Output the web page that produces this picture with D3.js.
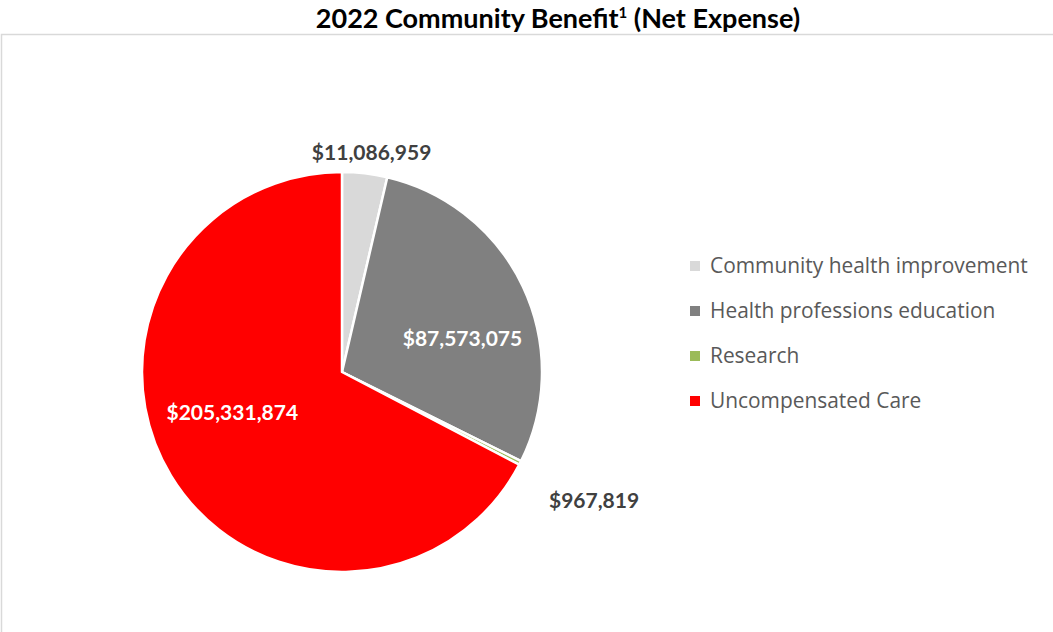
<!DOCTYPE html>
<html><head><meta charset="utf-8">
<script src="https://cdn.jsdelivr.net/npm/d3@7"></script>
<style>
body{margin:0;background:#fff;}
svg{display:block;font-family:Lato,"Open Sans",sans-serif;}
</style></head>
<body>
<svg id="c" width="1053" height="632"></svg>
<script>
const categories = ["Community health improvement","Health professions education","Research","Uncompensated Care"];
const values = [11086959, 87573075, 967819, 205331874];
const labels = ["$11,086,959","$87,573,075","$967,819","$205,331,874"];
const colors = ["#d9d9d9","#808080","#9bbb59","#ff0000"];

const svg = d3.select("#c");

svg.append("rect").attr("x",1.5).attr("y",34.5).attr("width",1060).attr("height",640)
  .attr("fill","#fff").attr("stroke","#d9d9d9").attr("stroke-width",1.5);

const title = svg.append("text").attr("x",558).attr("y",28).attr("text-anchor","middle")
  .attr("font-size",27).attr("font-weight","bold").attr("fill","#000");
title.append("tspan").text("2022 Community Benefit");
title.append("tspan").text("1").attr("font-size",15).attr("dy",-10);
title.append("tspan").text(" (Net Expense)").attr("dy",10);

const cx = 342, cy = 372, R = 200;
const pie = d3.pie().sort(null).value(d=>d)(values);
const arc = d3.arc().innerRadius(0).outerRadius(R);
const g = svg.append("g").attr("transform",`translate(${cx},${cy})`);
g.selectAll("path").data(pie).join("path")
  .attr("d",arc).attr("fill",(d,i)=>colors[i])
  .attr("stroke","#fff").attr("stroke-width",2.5).attr("stroke-linejoin","round");

// label placement: radius and angle offset (rad) from slice mid-angle
const labelCfg = [
  {r:221, da:0.02, color:"#404040"},
  {r:125, da:0.17, color:"#fff"},
  {r:283, da:0.0, color:"#404040"},
  {r:117, da:0.19, color:"#fff"}
];
pie.forEach((d,i)=>{
  const c = labelCfg[i];
  const a = (d.startAngle+d.endAngle)/2 + c.da;
  const x = c.r*Math.sin(a), y = -c.r*Math.cos(a);
  g.append("text").attr("x",x).attr("y",y).attr("dy","0.35em").attr("text-anchor","middle")
    .attr("font-size",21).attr("font-weight","bold").attr("fill",c.color).text(labels[i]);
});

const leg = svg.append("g").attr("transform","translate(690,266)");
categories.forEach((n,i)=>{
  const row = leg.append("g").attr("transform",`translate(0,${i*45})`);
  row.append("rect").attr("x",0).attr("y",-5).attr("width",10).attr("height",10).attr("fill",colors[i]);
  row.append("text").attr("x",20).attr("y",0).attr("dy","0.35em")
    .attr("font-family","'Open Sans',sans-serif")
    .attr("font-size",20.9).attr("fill","#595959").text(n);
});
</script>
</body></html>
